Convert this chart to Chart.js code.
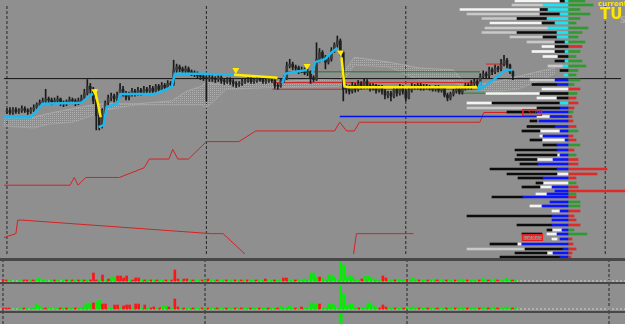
<!DOCTYPE html>
<html>
<head>
<meta charset="utf-8">
<script src="https://cdn.jsdelivr.net/npm/chart.js@4.4.1/dist/chart.umd.min.js"></script>
<style>
html, body { margin: 0; padding: 0; width: 625px; height: 324px; overflow: hidden; background: #474747; }
canvas { position: absolute; left: 0; background: #8f8f8f; }
#main { top: 0; }
#pa { top: 261px; }
#pb { top: 284px; }
#pc { top: 313px; }
#prof { top: 0; left: 440px; background: transparent; }
</style>
</head>
<body>
<canvas id="main" width="625" height="258"></canvas>
<canvas id="pa" width="625" height="21"></canvas>
<canvas id="pb" width="625" height="27"></canvas>
<canvas id="pc" width="625" height="11"></canvas>
<canvas id="prof" width="185" height="258"></canvas>
<script>
// bar index runs along x, price in points along y
const opens = [149,150,148,151,149,150,152,150,149,151, 153,156,158, 160, 162,161,159,160,162,158,157,159,161,160,158,160,
  163,168,175, 172,160,145, 135,150,158,163,165,162, 166,172, 168,164,167,170, 168,171,169,172, 170,173,170,175,
  172,176,174,178, 177, 192,195,193,191,193,190, 189,188,186,185,184, 183,184,183,182,184,181,180, 182,180,178,177,178,
  180,181,182,180,181,183,182,180,181,182, 181,176, 175,181, 183,196,198, 195,194,191,192,189, 190,184, 182,203,
  210,205,200, 203,212,218, 222, 210, 172,174,170,176, 172,178,175,180, 176,173,176,171, 174,170,166,168,
  165,172,168,174,170,163, 171,175,174,176,173,175, 174,173,172,174,171, 173,166,163, 167,170,172,169,
  173,176,174,178,180, 177,185,188, 186,192,190,194, 193,198,202, 197,190];
const closes = [150,148,151,149,150,152,150,149,151,153, 156,158,160, 162, 161,159,160,162,158,157,159,161,160,158,160,163,
  168,175,172, 160,145,135, 150,158,163,165,162,166, 172,168, 164,167,170,168, 171,169,172,170, 173,170,175,172,
  176,174,178,177, 192, 195,193,191,193,190,189, 188,186,185,184,183, 184,183,182,184,181,180,182, 180,178,177,178,180,
  181,182,180,181,183,182,180,181,182,181, 176,175, 181,183, 196,198,195, 194,191,192,189,190, 184,182, 203,210,
  205,200,203, 212,218,222, 210, 172, 174,170,176,172, 178,175,180,176, 173,176,171,174, 170,166,168,165,
  172,168,174,170,163,171, 175,174,176,173,175,174, 173,172,174,171,173, 166,163,167, 170,172,169,173,
  176,174,178,180,177, 185,188,186, 192,190,194,193, 198,202,197, 190,186];
const highs = [152,153,153,153,152,155,154,152,153,156, 158,161,163,172,164,163,163,165,163,160,
  161,164,163,162,163,166,172,182,178,174, 162,148,152,160,166,168,167,169,178,175,
  170,169,173,172,174,173,175,174,176,175, 177,177,179,178,181,180,202,198,197,195,
  196,195,192,191,190,188,187,186,187,186, 185,186,186,183,184,184,182,180,180,183,
  183,184,184,183,185,185,184,183,184,184, 182,178,183,186,200,203,200,197,196,195,
  194,193,191,186,220,214,212,207,206,215, 220,227,224,212,177,176,179,178,181,180,
  183,182,178,178,177,176,176,172,170,170, 175,174,177,176,172,174,178,177,178,178,
  177,177,176,175,176,176,175,174,168,169, 172,174,174,175,178,178,181,183,182,188,
  191,190,195,194,197,196,203,207,204,198, 191];
const lows = [147,146,146,147,147,148,148,146,147,149, 151,154,156,158,158,156,157,158,155,154,
  155,157,157,155,156,158,161,166,168,157, 130,130,132,147,155,160,159,160,164,165,
  161,161,165,165,166,166,167,167,168,167, 168,169,170,171,172,174,176,189,190,188,
  189,187,186,185,183,182,181,160,180,180, 179,180,178,177,178,177,175,174,175,176,
  178,179,178,178,179,180,178,178,179,179, 173,172,174,179,182,194,192,191,188,189,
  187,186,178,180,181,200,202,193,198,201, 210,215,207,160,168,167,168,169,170,172,
  173,173,170,171,168,169,167,162,163,160, 163,165,166,167,160,162,169,172,172,171,
  171,172,171,170,170,169,169,164,160,161, 165,168,167,167,171,172,172,176,175,176,
  183,184,184,187,188,190,191,196,194,188, 182];

// indicator lines: [bar index, price], null = gap
const yellowLine = [[29.5,172],[30.5,158],[31.5,143], null, [76.3,187],[90.9,184], null,
  [112.4,205],[113.4,175],[115,174],[158,174]];
const cyanLine = [[-1,143],[8,143],[12,157],[25,158],[28,166],[29,167], null,
  [30.8,133],[32.5,135],[33.5,154],[37.1,157],[38.1,167],[49.4,167],[53.7,172],[55.4,175],[56.4,188],[65.3,188],[76.9,187], null,
  [92.5,178],[93.5,188],[96.8,190],[100.8,192], null,
  [102.5,188],[103.5,200],[106.8,203],[109.1,210],[111.1,215], null,
  [158.2,170],[159.2,180], null, [158.9,172],[163.2,181],[167.5,192],[169.8,192]];
const arrowIdx = [29.5, 76.9, 100.8, 112.1];
const arrowPrice = [170, 192, 196, 210];

const redStep = [[-1,73],[21.2,73],[22.6,81],[23.9,73],[26.5,81],[37.8,81],[46.1,91],[47.8,100],[54.4,100],[55.7,110],
  [57.4,100],[61,100],[67,118],[77.9,118],[83.6,129],[110.1,129],[111.8,138],[114.1,129],[116.7,129],[118.4,138],
  [158.9,138],[160.2,148],[168.8,148]];
const redLow = [[-1,19],[3,23],[3.6,37],[5,37],[68.7,23],[72.6,23],[80.3,1], null, [116.4,1],[117.4,23],[136.6,23]];

const cloudIdx   = [-1,9,13.9,22.2,28.9,32.2,43.8,55.4,60.4,65.3,67,69.7,73.6,91.9,111.8,116.7,128.4,138.3,149.9,154.9,164.8,171.5,178.1,184.1];
const cloudUpper = [142,143,147,152,156,157,157,160,170,175,180,177,178,180,183,205,200,194,192,175,180,185,190,194];
const cloudLower = [134,132,136,138,145,150,156,156,156,156,153,160,172,174,175,197,195,182,180,172,170,172,180,188];

// [from index, to index, price]
const levels = [[-1,206.3,183],[93.5,158.9,190],[89.2,158.9,172],[89.2,158.9,179],[160.9,167.2,198],[151.6,169.8,168],[111.8,187.4,144]];
const sessionIdx = [0, 67, 134, 201];

// sub-window histograms (+ green, - red)
const hist1 = [-1,-1,1,0,0,0,1,-1,-1,1, -1,2,3,1,1,0,1,-1,1,0, 1,-1,1,-1,1,-1,1,-1,1,-1,
  -8,-1,1,-6,1,-2,4,4,-5,-5, -3,-5,1,-1,-3,-3,1,-1,1,-1, 1,-1,1,1,-1,1,-1,-11,-2,1,
  -2,-2,1,-1,1,1,-1,1,-2,1, 1,-1,1,1,-1,1,1,-1,1,-1, 1,-1,1,1,-1,1,1,-2,1,1,
  -1,1,1,-3,-3,1,1,-1,2,1, 2,1,8,8,4,-4,3,1,6,6, 4,1,19,16,4,5,4,1,1,-2,
  5,5,3,2,1,1,-5,-3,1,1, -1,2,1,1,-1,1,3,1,-1,1, 1,-1,1,2,-1,1,1,-1,1,1,
  -1,1,2,1,-1,1,1,1,-1,3, 1,-1,1,2,-1,1,1,3,1,-1, 1];
const hist2 = [-1,-1,-1,0,0,0,1,-1,1,0, 1,5,3,1,-1,1,1,0,1,-1, 1,-1,1,1,-1,1,1,4,6,6,
  -6,7,9,-5,-5,1,1,-4,-4,1, -3,-4,-4,1,-5,-5,1,-4,1,-1, -2,1,-1,3,3,-2,1,-10,-2,1,
  -1,1,1,-1,1,1,-1,1,-1,1, 1,-1,1,1,-1,1,1,-1,1,-1, 1,1,-1,1,1,-1,1,1,-1,1,
  1,-1,3,1,1,3,1,-1,1,-2, 1,1,6,6,5,-5,1,1,5,5, 4,1,23,15,3,5,5,1,-1,1,
  1,6,6,3,1,-1,-4,-2,1,1, -1,1,1,-1,1,1,2,1,-1,1, 1,-1,1,1,-1,1,1,-1,1,1,
  -1,1,2,1,-1,1,1,1,-1,2, 1,-1,1,2,-1,1,1,2,1,-1, 1];
const hist3Idx = [112];
const hist3Val = [30];

// volume profile: [price, from, to], 0 = profile axis
const profWhite = [[259,-53,-8],[250.5,-108,-28],[237,-78,-26],[213.5,-26,-13],[208.5,-36,-13],[203.5,-25,-10],[171,-26,0],
  [166.5,-82,-28],[162,-31,-11],[157,-101,-76],[143.5,-31,-18],[129,-28,-8],[124,-28,-25],[120,-26,-3],[105,-11,-8],
  [100.5,-31,-15],[86,-11,0],[77,-25,0],[73,-28,-16],[66,-32,-21],[54,-38,-26],[49,-16,-8],[30,-16,-6],[26,-21,-11],
  [21,-16,-11],[16,-50,-47],[7,-21,-15]];
const profGray = [[255,-56,-25],[246,-101,-28],[241.5,-86,-51],[232,-83,-20],[227.5,-86,-51],[223,-58,-25],[218,-41,-13],
  [194,-20,-5],[180,-38,-13],[152,-101,-31],[11,-101,-43]];
const profBlack = [[259,-8,-3],[250.5,-28,-20],[246,-28,-8],[241.5,-51,-21],[237,-26,-13],[227.5,-51,-11],[223,-25,-11],
  [218,-13,-3],[213.5,-13,0],[208.5,-13,-3],[203.5,-10,0],[199,-13,-3],[189.5,-8,0],[175.5,-36,-11],[166.5,-28,0],
  [162,-11,0],[157,-76,-8],[152,-31,-8],[148,-61,-31],[139,-38,-31],[133.5,-41,-13],[129,-46,-28],[120,-38,-26],
  [115,-25,-11],[110,-53,-11],[105,-51,-11],[100.5,-53,-31],[96,-48,-30],[91,-78,-11],[86,-61,-11],[82,-50,-25],
  [77,-32,-25],[73,-46,-28],[63,-76,-45],[44,-101,-16],[35,-51,-16],[30,-21,-16],[26,-46,-26],[16,-78,-51],
  [11,-43,-5],[7,-53,-21],[3,-68,-8]];
const profCyan = [[259,-3,0],[255,-25,0],[250.5,-20,0],[246,-8,0],[241.5,-21,0],[237,-13,0],[232,-20,0],[227.5,-11,0],
  [223,-11,0],[218,-3,0],[208.5,-3,0],[199,-3,0],[194,-5,0],[185,-4,0],[157,-8,0]];
const profBlue = [[180,-13,0],[175.5,-11,0],[152,-8,0],[148,-31,0],[143.5,-18,0],[139,-29,0],[133.5,-13,0],[129,-8,0],
  [124,-25,0],[120,-3,0],[115,-11,0],[110,-11,0],[105,-8,0],[100.5,-15,0],[96,-30,0],[91,-11,0],[82,-25,0],[73,-16,0],
  [69,-13,0],[66,-21,0],[63,-45,0],[58,-18,0],[54,-26,0],[49,-8,0],[44,-16,0],[40,-16,0],[35,-16,0],[30,-6,0],
  [26,-11,0],[21,-8,0],[16,-46,0],[11,-5,0],[7,-15,0],[3,-8,0]];
const profRows = [259,255,250.5,246,241.5,237,232,227.5,223,218,213.5,208.5,203.5,199,194,189.5,185,180,175.5,171,
  166.5,162,157,152,148,143.5,139,133.5,129,124,120,115,110,105,100.5,96,91,86,82,77,73,69,66,63,58,54,49,44,40,35,
  30,26,21,16,11,7,3];
const profRight = [17,25,12,22,12,8,20,14,10,17, -14,12,8,14,18,10,8,12,6,-12, 9,-8,-10,-6,5,-4,-5,-8,10,-5,
  -8,12,-6,8,-10,-10,-39,-29,-8,8, -10,-57,8,-8,12,12,-12,-6,-8,-12, 6,19,-4,-5,-8,-4,-3];

const priceTagValue = [147.5, 22.5];
const priceTagFrom = [-46, -46];
const priceTagTo = [-26, -25];
const priceTagText = ['1.3160', '1.2920'];

const IDX_MIN = -0.995, IDX_MAX = 206.3;

const pts = arr => {
  let lastX = 0;
  return arr.map(p => {
    if (!p) return { x: lastX, y: null };
    lastX = p[0];
    return { x: p[0], y: p[1] };
  });
};
const vlines = (lo, hi) => {
  const d = [];
  sessionIdx.forEach(i => { d.push({ x: i, y: lo }, { x: i, y: hi }, { x: i, y: null }); });
  return d;
};
const lineDs = (data, color, width, order, extra) => Object.assign({
  type: 'line', data: data, borderColor: color, borderWidth: width, pointRadius: 0, fill: false, order: order
}, extra || {});

const baseOpts = (ymin, ymax) => ({
  responsive: false, animation: false, devicePixelRatio: 1, events: [],
  layout: { padding: 0 },
  plugins: { legend: { display: false }, tooltip: { enabled: false } },
  scales: {
    x: { type: 'linear', min: IDX_MIN, max: IDX_MAX, offset: false, display: false },
    y: { type: 'linear', min: ymin, max: ymax, display: false }
  }
});

// dotted pattern for the cloud
const pc = document.createElement('canvas');
pc.width = 2; pc.height = 2;
const pctx = pc.getContext('2d');
pctx.fillStyle = '#b0b0b0';
pctx.fillRect(0, 0, 1, 1);
const cloudPattern = pctx.createPattern(pc, 'repeat');

const levelColors = ['#111111', '#1f7a1f', '#e02020', '#d42a2a', '#e02020', '#1f8a1f', '#0010ee'];

const mainSets = [];
mainSets.push(lineDs(arrowIdx.map((x, i) => ({ x: x, y: arrowPrice[i] })), '#ffee00', 0, 0,
  { showLine: false, pointRadius: 4, pointStyle: 'triangle', rotation: 180, pointBackgroundColor: '#ffee00', pointBorderColor: '#ffee00' }));
mainSets.push(lineDs(pts(yellowLine), '#ffee00', 2.5, 1));
mainSets.push(lineDs(pts(cyanLine), '#1cb8ee', 2.5, 2));
mainSets.push({
  type: 'bar', order: 3, grouped: false, barThickness: 2, minBarLength: 1,
  data: opens.map((o, i) => ({ x: i, y: [o, closes[i]] })),
  backgroundColor: opens.map((o, i) => closes[i] >= o ? '#3c3c3c' : '#202020')
});
mainSets.push({
  type: 'bar', order: 4, grouped: false, barThickness: 1,
  data: highs.map((h, i) => ({ x: i, y: [lows[i], h] })),
  backgroundColor: '#1a1a1a'
});
levels.forEach((l, k) => {
  mainSets.push(lineDs([{ x: l[0], y: l[2] }, { x: l[1], y: l[2] }], levelColors[k], k === 6 ? 1.5 : 1, 5));
});
mainSets.push(lineDs(pts(redStep), '#d42222', 1, 5));
mainSets.push(lineDs(pts(redLow), '#d42222', 1, 5));
mainSets.push(lineDs(cloudIdx.map((x, i) => ({ x: x, y: cloudUpper[i] })), '#a9a9a9', 1, 6,
  { fill: '+1', backgroundColor: cloudPattern }));
mainSets.push(lineDs(cloudIdx.map((x, i) => ({ x: x, y: cloudLower[i] })), '#a0a0a0', 1, 6));
mainSets.push(lineDs(vlines(2, 260), '#262626', 1, 7, { borderDash: [3, 2] }));

new Chart(document.getElementById('main'), { type: 'bar', data: { datasets: mainSets }, options: baseOpts(2, 260) });

function histChart(id, values, ymin, ymax) {
  new Chart(document.getElementById(id), {
    type: 'bar',
    data: {
      datasets: [
        { type: 'bar', order: 0, grouped: false, barThickness: 2,
          data: values.map((v, i) => ({ x: i, y: Math.abs(v) })),
          backgroundColor: values.map(v => v >= 0 ? '#00ee00' : '#ff1414') },
        lineDs([{ x: IDX_MIN, y: 0 }, { x: IDX_MAX, y: 0 }], '#d2d2d2', 1, 1, { borderDash: [2, 2] }),
        lineDs(vlines(ymin, ymax), '#262626', 1, 2, { borderDash: [3, 2] })
      ]
    },
    options: baseOpts(ymin, ymax)
  });
}
histChart('pa', hist1, -1, 20);
histChart('pb', hist2, -2, 25);

new Chart(document.getElementById('pc'), {
  type: 'bar',
  data: {
    datasets: [
      { type: 'bar', order: 0, grouped: false, barThickness: 3,
        data: hist3Idx.map((x, i) => ({ x: x, y: hist3Val[i] })), backgroundColor: '#00ee00' },
      lineDs(vlines(0, 11), '#262626', 1, 2, { borderDash: [3, 2] })
    ]
  },
  options: baseOpts(0, 11)
});

// volume profile on the right
const profSet = (rows, color, order, thick) => ({
  type: 'bar', order: order, grouped: false, barThickness: thick || 2,
  data: rows.map(r => ({ y: r[0], x: [r[1], r[2]] })), backgroundColor: color
});
const tagPlugin = {
  id: 'tags',
  afterDatasetsDraw(chart) {
    const { ctx, scales: { x, y } } = chart;
    ctx.save();
    ctx.fillStyle = '#ff2020';
    ctx.font = '6px "DejaVu Sans"';
    ctx.textAlign = 'center';
    ctx.textBaseline = 'middle';
    priceTagValue.forEach((v, i) => {
      ctx.fillText(priceTagText[i], x.getPixelForValue((priceTagFrom[i] + priceTagTo[i]) / 2), y.getPixelForValue(v));
    });
    ctx.textAlign = 'left';
    ctx.textBaseline = 'alphabetic';
    ctx.fillStyle = '#ffe600';
    ctx.font = 'bold 7px "DejaVu Sans"';
    ctx.fillText('current', chart.width - 27, 6);
    ctx.font = 'bold 15px "DejaVu Sans"';
    ctx.fillText('TU', chart.width - 25, 19);
    ctx.fillStyle = '#a9a9a9';
    ctx.font = 'bold 8px "DejaVu Sans"';
    ctx.fillText('S', chart.width - 5, 23);
    ctx.restore();
  }
};
new Chart(document.getElementById('prof'), {
  type: 'bar',
  data: {
    datasets: [
      { type: 'bar', order: 0, grouped: false, barThickness: 7, borderSkipped: false, borderWidth: 1,
        borderColor: '#e02020', backgroundColor: 'rgba(0,0,0,0)',
        data: priceTagValue.map((v, i) => ({ y: v, x: [priceTagFrom[i], priceTagTo[i]] })) },
      profSet(profCyan, '#19e6f5', 1),
      profSet(profBlue, '#0a14ff', 1),
      profSet(profBlack, '#0c0c0c', 2),
      profSet(profWhite, '#f4f4f4', 3),
      profSet(profGray, '#c9c9c9', 3),
      profSet(profRows.map((v, i) => [v, 0, Math.max(profRight[i], 0)]), '#2f9a2f', 4, 2),
      profSet(profRows.map((v, i) => [v, 0, Math.max(-profRight[i], 0)]), '#e02a2a', 4, 2)
    ]
  },
  options: {
    indexAxis: 'y',
    responsive: false, animation: false, devicePixelRatio: 1, events: [],
    layout: { padding: 0 },
    plugins: { legend: { display: false }, tooltip: { enabled: false } },
    scales: {
      x: { type: 'linear', min: -128, max: 57, offset: false, display: false },
      y: { type: 'linear', min: 2, max: 260, offset: false, display: false }
    }
  },
  plugins: [tagPlugin]
});
</script>
</body>
</html>
